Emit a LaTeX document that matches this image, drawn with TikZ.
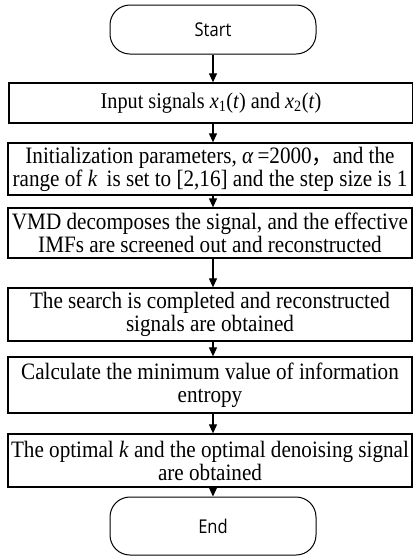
\documentclass[tikz,border=0pt]{standalone}
\usepackage{fontspec}
\setmainfont{Liberation Serif}[FakeStretch=0.9]
\newfontfamily\termfont{Open Sans}[FakeStretch=0.87]
\newfontfamily\cjk{Noto Sans CJK SC}[FakeStretch=0.9]
\usetikzlibrary{arrows.meta}
\tikzset{
  stepbox/.style={draw, line width=1.3pt, rectangle, minimum width=404pt,
    inner sep=0pt, align=center, font=\fontsize{23.5}{23}\selectfont},
  termbox/.style={draw, line width=1pt, rectangle, rounded corners=20pt,
    minimum width=206pt, inner sep=0pt, font=\termfont\fontsize{19}{22}\selectfont},
  flow/.style={line width=1.1pt, -{Triangle[width=8pt,length=9pt]}}
}
\begin{document}
\begin{tikzpicture}[x=1pt,y=-1pt]
  \useasboundingbox (0,0) rectangle (413,558);
  \node[termbox, minimum height=49pt] (start) at (213,29.5) {Start};
  \node[stepbox, minimum height=40pt, font=\fontsize{22.5}{23}\selectfont] (input) at (211,103)
    {Input signals \textit{x}\textsubscript{1}(\textit{t}) and \textit{x}\textsubscript{2}(\textit{t})};
  \node[stepbox, minimum height=52pt] (init) at (210,169)
    {Initialization parameters, \textit{α}\,=2000{\cjk ，}and the\\
     range of \textit{k}\, is set to [2,16] and the step size is 1};
  \node[stepbox, minimum height=50pt] (vmd) at (210,233)
    {VMD decomposes the signal, and the effective\\
     IMFs are screened out and reconstructed};
  \node[stepbox, minimum height=53pt] (search) at (210,314.5)
    {The search is completed and reconstructed\\ signals are obtained};
  \node[stepbox, minimum height=56pt] (calc) at (210,385)
    {Calculate the minimum value of information\\ entropy};
  \node[stepbox, minimum height=53pt] (opt) at (210,460.5)
    {The optimal \textit{k} and the optimal denoising signal\\ are obtained};
  \node[termbox, minimum height=58pt] (end) at (213,526) {End};
  \draw[flow] (start.south) -- (start.south |- input.north);
  \draw[flow] (start.south |- input.south) -- (start.south |- init.north);
  \draw[flow] (start.south |- init.south) -- (start.south |- vmd.north);
  \draw[flow] (start.south |- vmd.south) -- (start.south |- search.north);
  \draw[flow] (start.south |- search.south) -- (start.south |- calc.north);
  \draw[flow] (start.south |- calc.south) -- (start.south |- opt.north);
  \draw[flow] (start.south |- opt.south) -- (end.north);
\end{tikzpicture}
\end{document}
